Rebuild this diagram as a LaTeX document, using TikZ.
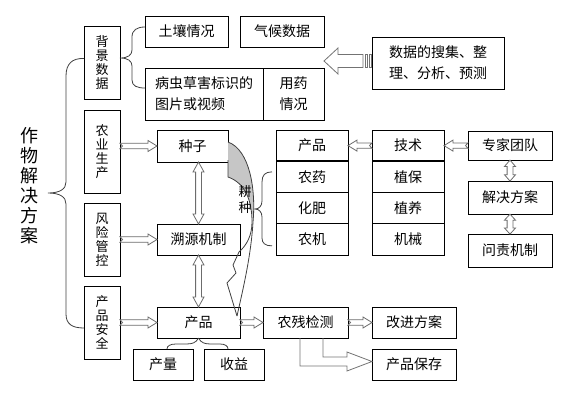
\documentclass[tikz,border=0pt]{standalone}
\usepackage{fontspec}
\newfontfamily\cjk{Noto Sans CJK SC}
\usetikzlibrary{positioning, calc}

% hollow block arrow from #1 to #2 (#3: one or two heads)
\newcommand\blockarrow[3]{%
  \path let \p1=($(#2)-(#1)$), \n1={atan2(\y1,\x1)}, \n2={veclen(\x1,\y1)} in
    \pgfextra{\xdef\barangle{\n1}\xdef\barlen{\n2}};
  \pgfmathsetmacro\barhead{min(10,\barlen/3.3)}%
  \begin{scope}[shift={(#1)}, rotate=\barangle]
    \ifnum#3=1
      \draw[hollow] (0,2.7) -- (\barlen-9,2.7) -- (\barlen-9,5.5) -- (\barlen,0) -- (\barlen-9,-5.5) -- (\barlen-9,-2.7) -- (0,-2.7) -- (2.5,0) -- cycle;
    \else
      \draw[hollow] (0,0) -- (\barhead,5.5) -- (\barhead,2.9) -- (\barlen-\barhead,2.9) -- (\barlen-\barhead,5.5) -- (\barlen,0) -- (\barlen-\barhead,-5.5) -- (\barlen-\barhead,-2.9) -- (\barhead,-2.9) -- (\barhead,-5.5) -- cycle;
    \fi
  \end{scope}}

\begin{document}
\begin{tikzpicture}[x=1pt, y=-1pt,
    box/.style={rectangle, draw, line width=0.8pt, inner sep=0pt, outer sep=0pt, align=center, font=\cjk\fontsize{14}{21}\selectfont},
    vbox/.style={box, minimum width=36pt, font=\cjk\fontsize{13}{14}\selectfont},
    cell/.style={box, minimum width=72pt, minimum height=31.25pt},
    hollow/.style={draw=gray!85!black, fill=white, line width=0.8pt},
    bigarrow/.style={draw=gray!90!black, line width=0.8pt},
    curly/.style={draw=black!75, line width=0.8pt},
]
    \useasboundingbox (0,0) rectangle (568,407);

    % Left column
    \node[font=\cjk\fontsize{18}{20}\selectfont, align=center] (title) at (29,186) {作\\物\\解\\决\\方\\案};
    \node[vbox, minimum height=73pt] (bg) at (102,62.5) {背\\景\\数\\据};
    \node[vbox, minimum height=83pt, below=11pt of bg] (farm) {农\\业\\生\\产};
    \node[vbox, minimum height=73pt, below=10pt of farm] (risk) {风\\险\\管\\控};
    \node[vbox, minimum height=73pt, below=10pt of risk] (safe) {产\\品\\安\\全};

    % Background data
    \node[box, minimum width=83pt, minimum height=31pt] (soil) at (186.5,31.5) {土壤情况};
    \node[box, minimum width=84pt, minimum height=31pt, right=12pt of soil] (climate) {气候数据};
    \node[box, minimum width=118pt, minimum height=52pt, align=left] (pest) at (204,94) {病虫草害标识的\\图片或视频};
    \node[box, minimum width=61pt, minimum height=52pt, right=0pt of pest] (drug) {用药\\情况};
    \node[box, minimum width=132pt, minimum height=52pt] (gather) at (438,63) {数据的搜集、整\\理、分析、预测};

    % Production chain
    \node[box, minimum width=71pt, minimum height=32pt] (seed) at (192.5,146) {种子};
    \node[box, minimum width=83pt, minimum height=31pt] (trace) at (198.5,239.5) {溯源机制};
    \node[box, minimum width=83pt, minimum height=31pt, below=52pt of trace] (prod) {产品};
    \node[box, minimum width=60pt, minimum height=31pt] (yield) at (163,364.5) {产量};
    \node[box, minimum width=60pt, minimum height=31pt, right=11pt of yield] (income) {收益};
    \node[box, minimum width=85pt, minimum height=31pt, right=23pt of prod] (check) {农残检测};
    \node[box, minimum width=84pt, minimum height=31pt, right=24pt of check] (improve) {改进方案};
    \node[box, minimum width=84pt, minimum height=31pt, below=11pt of improve] (store) {产品保存};

    % Tables
    \node[cell] (goods) at (312,145.6) {产品};
    \node[cell, below=0pt of goods] (pesticide) {农药};
    \node[cell, below=0pt of pesticide] (fertilizer) {化肥};
    \node[cell, below=0pt of fertilizer] (machine) {农机};
    \node[cell, right=24pt of goods] (tech) {技术};
    \node[cell, below=0pt of tech] (protect) {植保};
    \node[cell, below=0pt of protect] (raise) {植养};
    \node[cell, below=0pt of raise] (mech) {机械};
    \draw[line width=2pt] (goods.south west) -- (goods.south east);
    \draw[line width=2pt] (tech.south west) -- (tech.south east);

    % Experts
    \node[box, minimum width=84pt, minimum height=29pt, right=24pt of tech] (expert) {专家团队};
    \node[box, minimum width=84pt, minimum height=33pt, below=21pt of expert] (plan) {解决方案};
    \node[box, minimum width=84pt, minimum height=33pt, below=20pt of plan] (blame) {问责机制};

    % Hollow arrows
    \blockarrow{farm.east |- seed.west}{seed.west}{1}
    \blockarrow{risk.east |- trace.west}{trace.west}{1}
    \blockarrow{safe.east |- prod.west}{prod.west}{1}
    \blockarrow{trace.north |- seed.south}{trace.north}{2}
    \blockarrow{trace.south}{prod.north}{2}
    \blockarrow{prod.east}{check.west}{1}
    \blockarrow{check.east}{improve.west}{1}
    \blockarrow{tech.west}{goods.east}{1}
    \blockarrow{expert.west}{expert.west -| tech.east}{1}
    \blockarrow{expert.south}{plan.north}{2}
    \blockarrow{plan.south}{blame.north}{2}

    % Big arrows
    \coordinate (tip) at ($(climate.east |- gather.west)+(0,-2)$);
    \draw[bigarrow, fill=white] (tip) -- ++(14,-13) -- ++(0,6.5) -- ++(25,0) -- ++(0,13) -- ++(-25,0) -- ++(0,6.5) -- cycle;
    \draw[bigarrow] ($(tip)+(41,-6.5)$) rectangle ++(2.5,13);
    \draw[bigarrow] ($(tip)+(45,-6.5)$) rectangle ++(2.5,13);
    \coordinate (bend) at ($(store.west)+(0,-3)$);
    \draw[bigarrow] ($(check.south west)+(37,0)$) |- ($(bend)+(-25,4.5)$) -- ++(0,5) -- (bend) -- ++(-25,-9.5) -- ++(0,5) -| ($(check.south west)+(60,0)$);

    % Braces
    \draw[curly] ($(bg.west)+(0,-4)$) .. controls (72,58) and (66,64) .. (66,76) -- (66,182) .. controls (66,189) and (60,193) .. (48,193) .. controls (60,193) and (66,197) .. (66,204) -- (66,314) .. controls (66,324) and (72,328) .. ($(safe.west)+(0,5.5)$);
    \draw[curly] ($(soil.west)+(0,-4.5)$) .. controls (137,27) and (132,30) .. (132,37) -- (132,50) .. controls (132,55) and (128,58) .. ($(bg.east)+(0,-4.5)$) .. controls (128,58) and (132,61) .. (132,66) -- (132,80) .. controls (132,86) and (137,88) .. ($(pest.west)+(0,-6)$);
    \draw[curly] ($(pesticide.west)+(-4,-5)$) .. controls (265,172) and (262,175) .. (262,182) -- (262,201) .. controls (262,206) and (259,209) .. (255,209) .. controls (259,209) and (262,212) .. (262,217) -- (262,238) .. controls (262,243) and (265,246) .. ($(machine.west)+(-4,6.5)$);
    \draw[curly] (prod.south) .. controls (196,343) and (192,344) .. (186,344) -- (176,344) .. controls (170,344) and (167,346) .. ($(yield.north)+(4,0)$);
    \draw[curly] (prod.south) .. controls (201,343) and (205,344) .. (211,344) -- (220,344) .. controls (225,344) and (228,346) .. ($(income.north)+(-6,0)$);

    % Curved arrow
    \fill[gray!45] (228,142) .. controls (250,150) and (256,190) .. (253,222) .. controls (252,200) and (245,183) .. (228,177) -- cycle;
    \draw[curly] (228,142) .. controls (250,150) and (256,190) .. (253,222) .. controls (251,255) and (244,285) .. (237,316);
    \draw[curly] (228,160) -- (228,177) .. controls (245,183) and (252,200) .. (252,222) .. controls (252,235) and (247,245) .. (239,252) -- (233,265) -- (236,273) -- (227,283) -- (237,316);
    \node[font=\cjk\fontsize{13}{16}\selectfont, align=center, inner sep=0pt] (till) at (245,200) {耕\\种};

\end{tikzpicture}
\end{document}
